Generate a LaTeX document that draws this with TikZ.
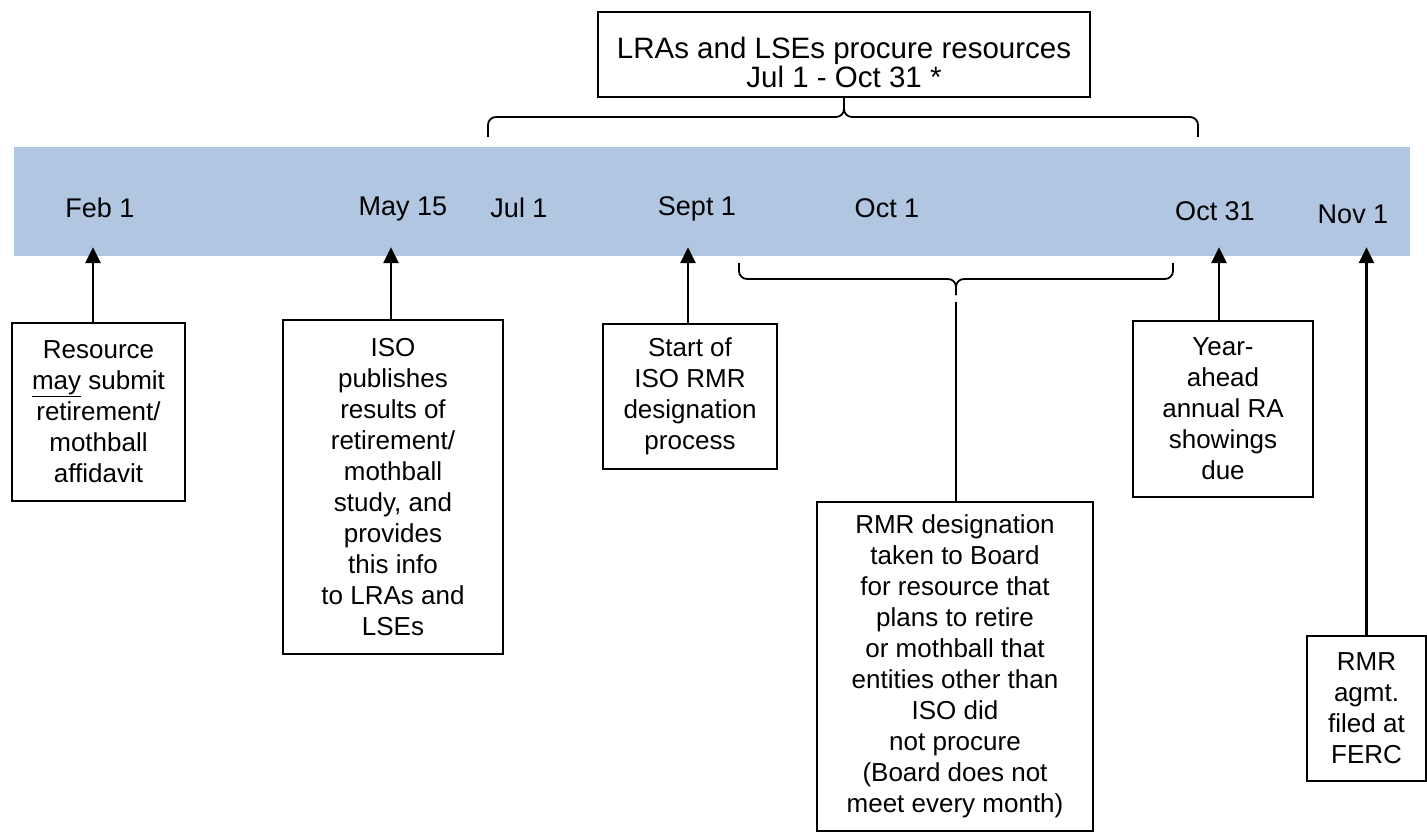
\documentclass[tikz,border=0pt]{standalone}
\usepackage{fontspec}
\setmainfont{Liberation Sans}
\usetikzlibrary{arrows.meta}
\definecolor{bandblue}{HTML}{B1C6E1}
\begin{document}
\begin{tikzpicture}[x=1pt,y=-1pt,
  box/.style={draw, line width=1.5pt, align=center, inner sep=0pt,
    font=\fontsize{26}{31}\selectfont},
  datelabel/.style={inner sep=0pt, font=\fontsize{27}{31}\selectfont},
  arr/.style={line width=2.8pt, -{Triangle[width=15pt,length=16pt]}},
  bracepath/.style={line width=1.8pt, rounded corners=8pt},
  link/.style={line width=2.4pt}]
\useasboundingbox (0,0) rectangle (1427,832);

% timeline band
\node[fill=bandblue, inner sep=0pt, minimum width=1396pt, minimum height=109pt]
  (band) at (712,201.5) {};

% dates along the band
\node[datelabel] (feb)  at (100,208)  {Feb 1};
\node[datelabel] (may)  at (403,209)  {May 15};
\node[datelabel] (jul)  at (519,208)  {Jul 1};
\node[datelabel] (sep)  at (697,209)  {Sept 1};
\node[datelabel] (oct)  at (887,208)  {Oct 1};
\node[datelabel] (oct31) at (1215,211) {Oct 31};
\node[datelabel] (nov)  at (1353,214) {Nov 1};

% procurement window above the band
\node[draw, line width=1.5pt, minimum width=492pt, minimum height=85pt]
  (proc) at (844,54.5) {};
\node[align=center, inner sep=0pt, font=\fontsize{29.5}{29}\selectfont]
  (proctext) at (844,62) {LRAs and LSEs procure resources\\Jul 1 - Oct 31 *};
\coordinate (upL) at (488,137);
\coordinate (upR) at (1198,137);
\coordinate (upM) at (844,117);
\draw[bracepath] (upL) |- (upM) -- (proc.south);
\draw[bracepath] (upR) |- (upM) -- (proc.south);

% event boxes below the band
\node[box, minimum width=173pt, minimum height=178pt] (b1) at (98.5,412)
  {Resource\\\underline{may} submit\\retirement/\\mothball\\affidavit};
\node[box, minimum width=220pt, minimum height=334pt] (b2) at (393,487)
  {ISO\\publishes\\results of\\retirement/\\mothball\\study, and\\provides\\this info\\to LRAs and\\LSEs};
\node[box, minimum width=174pt, minimum height=145pt] (b3) at (690,396.5)
  {Start of\\ISO RMR\\designation\\process};
\node[box, minimum width=276pt, minimum height=329pt] (b4) at (955,666.5)
  {RMR designation\\taken to Board\\for resource that\\plans to retire\\or mothball that\\entities other than\\ISO did\\not procure\\(Board does not\\meet every month)};
\node[box, minimum width=180pt, minimum height=176pt] (b5) at (1223,409)
  {Year-\\ahead\\annual RA\\showings\\due};
\node[box, minimum width=119pt, minimum height=145pt] (b6) at (1366.5,708.5)
  {RMR\\agmt.\\filed at\\FERC};

% arrows from the boxes up to their dates
\draw[arr] ([xshift=-5.5pt]b1.north) -- ([xshift=-5.5pt,yshift=9pt]b1.north |- band.south);
\draw[arr] ([xshift=-2pt]b2.north) -- ([xshift=-2pt,yshift=9pt]b2.north |- band.south);
\draw[arr] ([xshift=-2pt]b3.north) -- ([xshift=-2pt,yshift=9pt]b3.north |- band.south);
\draw[arr] ([xshift=-4pt]b5.north) -- ([xshift=-4pt,yshift=9pt]b5.north |- band.south);
\draw[arr] (b6.north) -- ([yshift=9pt]b6.north |- band.south);

% Board designation window below the band
\coordinate (loL) at (739,263);
\coordinate (loR) at (1173,263);
\coordinate (loM) at (956,279);
\coordinate (loTip) at (956,295);
\coordinate (loStart) at (956,302);
\draw[bracepath] (loL) |- (loM) -- (loTip);
\draw[bracepath] (loR) |- (loM) -- (loTip);
\draw[link] (loStart) -- (loStart |- b4.north);
\end{tikzpicture}
\end{document}
